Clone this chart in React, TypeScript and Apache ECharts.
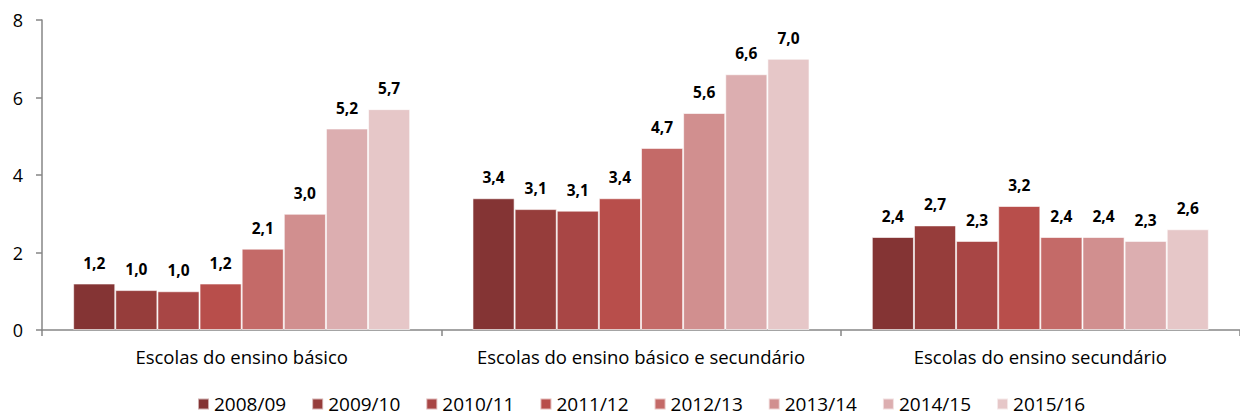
import React, { useEffect, useRef } from "react";
import * as echarts from "echarts";

const categories = [
  "Escolas do ensino básico",
  "Escolas do ensino básico e secundário",
  "Escolas do ensino secundário",
];
const years = ["2008/09", "2009/10", "2010/11", "2011/12", "2012/13", "2013/14", "2014/15", "2015/16"];
const s2008 = [1.2, 3.4, 2.4];
const s2009 = [1.03, 3.12, 2.7];
const s2010 = [1.0, 3.08, 2.3];
const s2011 = [1.2, 3.4, 3.2];
const s2012 = [2.1, 4.7, 2.4];
const s2013 = [3.0, 5.6, 2.4];
const s2014 = [5.2, 6.6, 2.3];
const s2015 = [5.7, 7.0, 2.6];
const seriesValues = [s2008, s2009, s2010, s2011, s2012, s2013, s2014, s2015];
const colors = ["#843434", "#963d3b", "#a84645", "#b84e4b", "#c46a68", "#d18f8f", "#dcaeb0", "#e6c7c8"];
const yTicks = { min: 0, max: 8, interval: 2 };

const FONT = "'Open Sans', 'Noto Sans', sans-serif";

export default function App() {
  const ref = useRef<HTMLDivElement>(null);
  useEffect(() => {
    document.body.style.margin = "0";
    const chart = echarts.init(ref.current!, null, { renderer: "svg" });
    chart.setOption({
      animation: false,
      textStyle: { fontFamily: FONT },
      grid: { left: 42, top: 20, height: 310, width: 1208, containLabel: false },
      legend: {
        left: 197,
        top: 394,
        padding: 0,
        itemWidth: 11,
        itemHeight: 11,
        itemGap: 25,
        icon: "rect",
        textStyle: { fontSize: 19, color: "#000", fontFamily: FONT, lineHeight: 20 },
        data: years,
      },
      xAxis: {
        type: "category",
        data: categories,
        axisLine: { lineStyle: { color: "#868686", width: 1.5 } },
        axisTick: { show: true, length: 6, lineStyle: { color: "#868686", width: 1.5 } },
        axisLabel: { interval: 0, fontSize: 18.5, color: "#000", margin: 17, fontFamily: FONT },
      },
      yAxis: {
        type: "value",
        min: yTicks.min,
        max: yTicks.max,
        interval: yTicks.interval,
        axisLine: { show: true, lineStyle: { color: "#868686", width: 1.5 } },
        axisTick: { show: true, length: 6, lineStyle: { color: "#868686", width: 1.5 } },
        splitLine: { show: false },
        axisLabel: { fontSize: 18, color: "#000", margin: 19, fontFamily: FONT },
      },
      series: years.map((y, i) => ({
        name: y,
        type: "bar",
        data: seriesValues[i],
        barGap: "0%",
        barCategoryGap: "15.6%",
        itemStyle: { color: colors[i], borderColor: "rgba(255,255,255,0.6)", borderWidth: 1 },
        label: {
          show: true,
          position: "top",
          distance: 13,
          fontSize: 15.5,
          fontWeight: "bold",
          color: "#000",
          fontFamily: FONT,
          formatter: (p: any) => p.value.toFixed(1).replace(".", ","),
        },
      })),
    });
    return () => chart.dispose();
  }, []);
  return <div ref={ref} style={{ width: 1240, height: 416 }} />;
}
